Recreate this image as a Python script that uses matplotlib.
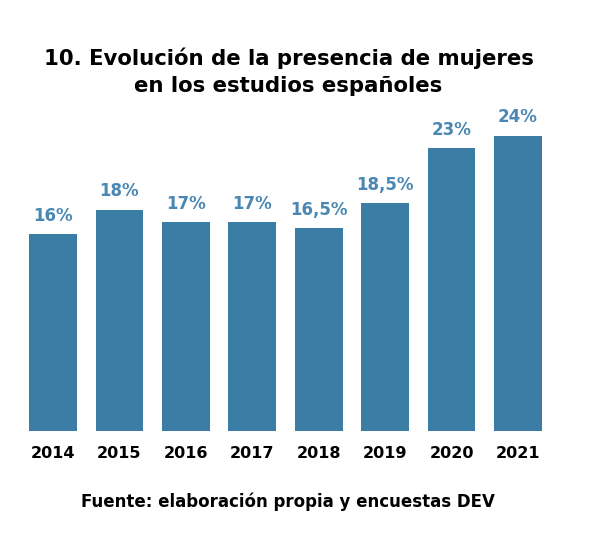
import matplotlib.pyplot as plt

years = ['2014', '2015', '2016', '2017', '2018', '2019', '2020', '2021']
values = [16, 18, 17, 17, 16.5, 18.5, 23, 24]
labels = ['16%', '18%', '17%', '17%', '16,5%', '18,5%', '23%', '24%']

plt.rcParams['font.family'] = 'DejaVu Sans'
fig = plt.figure(figsize=(5.98, 5.37), dpi=100)
ax = fig.add_axes([0.0331, 0.1974, 0.8886, 0.6164])

x = range(len(years))
ax.bar(x, values, width=0.72, color='#3b7da5')
for i, (v, lab) in enumerate(zip(values, labels)):
    ax.text(i, v + 0.75, lab, ha='center', va='bottom', fontsize=12,
            fontweight='bold', color='#4a88b3')

ax.set_xlim(-0.5, 7.5)
ax.set_ylim(0, 26.9)
ax.set_xticks(list(x))
ax.set_xticklabels(years, fontsize=11.5, fontweight='bold')
ax.tick_params(axis='x', length=0, pad=11)
ax.set_yticks([])
for s in ax.spines.values():
    s.set_visible(False)

fig.text(0.4825, 0.866, '10. Evolución de la presencia de mujeres\nen los estudios españoles',
         ha='center', va='center', fontsize=15.3, fontweight='bold', linespacing=1.42)
fig.text(0.481, 0.065, 'Fuente: elaboración propia y encuestas DEV',
         ha='center', va='center', fontsize=12, fontweight='bold')

fig.savefig('out.png', dpi=100)
